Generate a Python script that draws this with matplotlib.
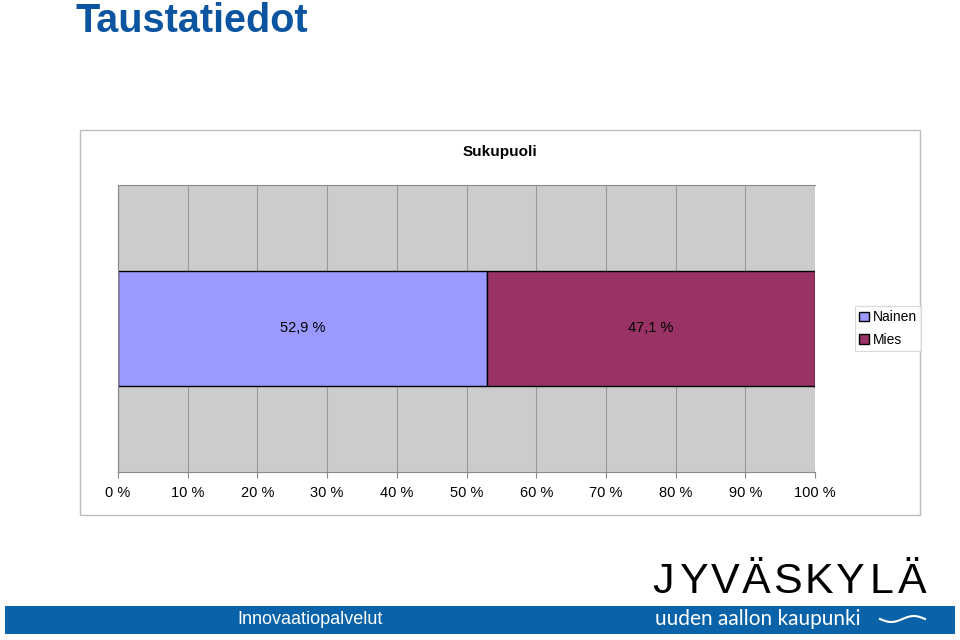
import matplotlib.pyplot as plt
from matplotlib.patches import Rectangle
import numpy as np

plt.rcParams['font.family'] = ['Liberation Sans', 'DejaVu Sans']

# Data
series = ['Nainen', 'Mies']
values = [52.9, 47.1]
colors = ['#9999ff', '#993366']
ticks = list(range(0, 101, 10))
tick_labels = [f'{t} %' for t in ticks]

fig = plt.figure(figsize=(9.6, 6.4), dpi=100)

# page title
fig.text(75 / 960, 1 - 21 / 640, 'Taustatiedot', color='#0b55a0',
         fontsize=28.5, fontweight='bold', ha='left', va='center')

# chart frame (behind the axes)
fig.patches.append(Rectangle((80 / 960, 1 - 515 / 640), 840 / 960, 385 / 640,
                             transform=fig.transFigure, facecolor='white',
                             edgecolor='#bdbdbd', linewidth=1, zorder=-5))
fig.text(500 / 960, 1 - 152 / 640, 'Sukupuoli', fontsize=11,
         fontweight='bold', ha='center', va='center')

ax = fig.add_axes([118 / 960, 1 - 472 / 640, 697 / 960, 287 / 640])
ax.set_zorder(2)
ax.set_facecolor('#cccccc')
ax.set_xlim(0, 100)
ax.set_ylim(-0.5, 0.5)
ax.set_axisbelow(True)
ax.grid(axis='x', color='#999999', linewidth=0.8)

left = 0
for name, val, col in zip(series, values, colors):
    ax.barh(0, val, left=left, height=0.4, color=col, edgecolor='black',
            linewidth=1, label=name)
    ax.text(left + val / 2, 0, f'{val:.1f} %'.replace('.', ','),
            ha='center', va='center', fontsize=10.5)
    left += val

ax.set_xticks(ticks)
ax.set_xticklabels(tick_labels, fontsize=10.5)
ax.set_yticks([])
ax.tick_params(axis='x', length=4, color='#888888', pad=6)
for side in ['left', 'bottom', 'top']:
    ax.spines[side].set_color('#888888')
ax.spines['right'].set_visible(False)

leg = ax.legend(loc='center left', bbox_to_anchor=(1.057, 0.5),
                frameon=True, fancybox=False, fontsize=10,
                handlelength=0.7, handleheight=0.7, handletextpad=0.3,
                borderpad=0.3, labelspacing=0.6, borderaxespad=0)
leg.get_frame().set_edgecolor('#d0d0d0')
leg.get_frame().set_linewidth(0.8)
for h in leg.legend_handles:
    h.set_edgecolor('black')

# footer band
fig.patches.append(Rectangle((5 / 960, 1 - 634 / 640), 950 / 960, 28 / 640,
                             transform=fig.transFigure, facecolor='#0a63a8',
                             edgecolor='none', zorder=-5))
fig.text(310 / 960, 1 - 620 / 640, 'Innovaatiopalvelut', color='white',
         fontsize=13, ha='center', va='center')

# city logo
letters = 'JYVÄSKYLÄ'
for i, ch in enumerate(letters):
    fig.text((663 + i * 31.2) / 960, 1 - 582 / 640, ch, color='black',
             fontsize=31, ha='center', va='center', family='Liberation Sans')
fig.text(655 / 960, 1 - 619 / 640, 'uuden aallon kaupunki', color='white',
         fontsize=15, ha='left', va='center', family='Lato')
wx = np.linspace(880, 925, 60)
wy = 619 + 3 * np.sin((wx - 880) / 45 * 2 * np.pi)
fig.add_artist(plt.Line2D(wx / 960, 1 - wy / 640, color='white',
                          linewidth=1.5, transform=fig.transFigure))

fig.savefig('out.png', dpi=100)
